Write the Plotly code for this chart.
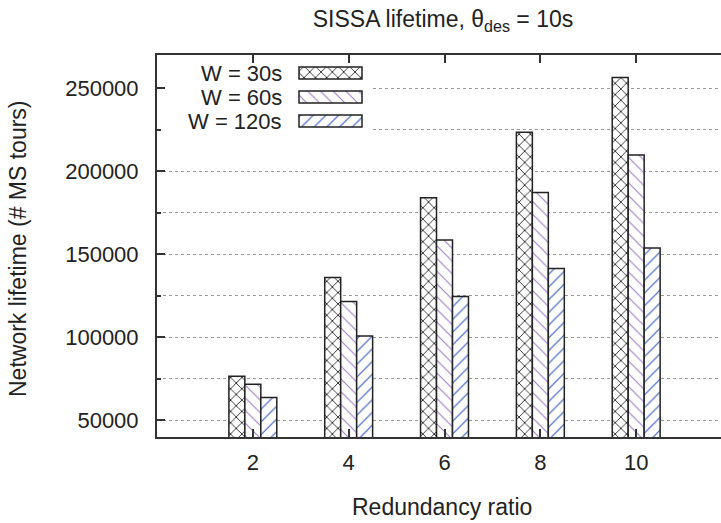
import plotly.graph_objects as go

# ---- data ----
ratios = [2, 4, 6, 8, 10]
series_names = ["W = 30s", "W = 60s", "W = 120s"]
w30 = [76600, 136000, 184000, 223500, 256500]
w60 = [71800, 121600, 158600, 187200, 209800]
w120 = [63800, 100800, 124600, 141400, 153800]
y_ticks = [50000, 100000, 150000, 200000, 250000]

series = [w30, w60, w120]
patterns = [
    dict(shape="x", fgcolor="#1a1a1a", bgcolor="white", size=8, solidity=0.2, fgopacity=1),
    dict(shape="\\", fgcolor="#9c7cc8", bgcolor="white", size=9, solidity=0.12, fgopacity=1),
    dict(shape="/", fgcolor="#2f55c0", bgcolor="white", size=9, solidity=0.12, fgopacity=1),
]
offsets = [-0.5, -1 / 6, 1 / 6]
bar_w = 1 / 3

FONT = "Liberation Sans, Arial, sans-serif"
TXT = "#222222"

# plot area in pixels
W, H = 721, 523
L, R, T, B = 157, 0, 55, 86
px_left, px_right, px_top, px_bottom = L, W - R, T, H - B
X_RANGE = [0, 11.77]
Y_RANGE = [40000, 270000]

fig = go.Figure()
for name, vals, pat, off in zip(series_names, series, patterns, offsets):
    fig.add_trace(go.Bar(
        x=ratios, y=vals, name=name, width=bar_w, offset=off,
        marker=dict(color="white", pattern=pat, line=dict(color="#222222", width=1.5)),
        showlegend=False,
    ))

# opaque key background (hides the grid behind the key), on a pixel overlay axis
fig.add_trace(go.Bar(
    x=[372 - 162], y=[(58 + 133) / 2], base=[162], orientation="h", width=[133 - 58],
    marker=dict(color="white", line=dict(width=0)),
    xaxis="x2", yaxis="y2", showlegend=False, hoverinfo="skip",
))

# custom legend (text left of swatch, like gnuplot)
leg_rows = [73, 97, 121]
sw_x0, sw_len, sw_h, txt_right = 299, 63, 12, 284
for name, pat, yy in zip(series_names, patterns, leg_rows):
    fig.add_trace(go.Bar(
        x=[sw_len], y=[yy], base=[sw_x0], orientation="h", width=[sw_h],
        marker=dict(color="white", pattern=pat, line=dict(color="#222222", width=1.5)),
        xaxis="x2", yaxis="y2", showlegend=False, hoverinfo="skip",
    ))
    fig.add_annotation(x=txt_right, y=yy, xref="x2", yref="y2", text=name,
                       showarrow=False, xanchor="right", yanchor="middle",
                       font=dict(family=FONT, size=22, color=TXT))

pw = px_right - px_left
ph = px_bottom - px_top
fig.add_annotation(text="Redundancy ratio", xref="paper", yref="paper",
                   x=(442 - px_left) / pw, y=-(507 - px_bottom) / ph,
                   showarrow=False, xanchor="center", yanchor="middle",
                   font=dict(family=FONT, size=23, color=TXT))
fig.add_annotation(text="Network lifetime (# MS tours)", xref="paper", yref="paper",
                   x=(18 - px_left) / pw, y=(px_bottom - 249) / ph, textangle=-90,
                   showarrow=False, xanchor="center", yanchor="middle",
                   font=dict(family=FONT, size=23, color=TXT))

fig.update_layout(
    width=W, height=H,
    margin=dict(l=L, r=R, t=T, b=B, pad=0),
    paper_bgcolor="white", plot_bgcolor="white",
    barmode="overlay",
    font=dict(family=FONT, size=22, color=TXT),
    title=dict(text="SISSA lifetime, θ<sub>des</sub> = 10s", x=(443 - px_left) / pw,
               xref="paper", xanchor="center", y=1 - 19 / H, yref="container",
               yanchor="middle", font=dict(family=FONT, size=23, color=TXT)),
    xaxis=dict(range=X_RANGE, tickvals=ratios, ticks="inside", ticklen=8,
               tickwidth=1.5, tickcolor="#333333", showline=True, linecolor="#333333",
               linewidth=2, mirror="ticks", showgrid=False, zeroline=False,
               ticklabelstandoff=5, tickfont=dict(size=22)),
    yaxis=dict(range=Y_RANGE, tickvals=y_ticks, tickformat="d", ticks="inside", ticklen=8,
               tickwidth=1.5, tickcolor="#333333", showline=True, linecolor="#333333",
               linewidth=2, showgrid=True, gridcolor="#9a9a9a", griddash="dot",
               gridwidth=1, zeroline=False, ticklabelstandoff=12,
               tickfont=dict(size=22),
               minor=dict(dtick=25000, tick0=0, ticks="inside", ticklen=4,
                          tickcolor="#333333", showgrid=True, gridcolor="#9a9a9a",
                          griddash="dot", gridwidth=1)),
    xaxis2=dict(range=[px_left, px_right], overlaying="x", anchor="y2",
                visible=False, fixedrange=True),
    yaxis2=dict(range=[px_bottom, px_top], overlaying="y", anchor="x2",
                visible=False, fixedrange=True),
)

fig.write_html("out.html", config={"displayModeBar": False},
               post_script="document.body.style.margin='0';")
